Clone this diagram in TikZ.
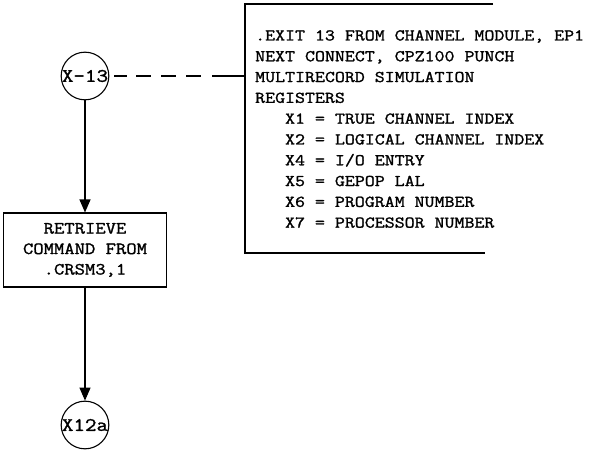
\documentclass[tikz,border=0pt]{standalone}
\usepackage{fontspec}
\setmonofont{Latin Modern Mono}[FakeStretch=1.18, FakeBold=1.5]
\usetikzlibrary{arrows.meta}

\tikzset{
  conn/.style={draw, circle, line width=1.1pt, inner sep=0pt, minimum size=46pt,
    font=\fontsize{19}{20}\selectfont\ttfamily},
  procbox/.style={draw, rectangle, line width=1.1pt, minimum width=163pt,
    minimum height=74pt, align=center, inner sep=0pt,
    font=\fontsize{17}{20.5}\selectfont\ttfamily},
  flow/.style={-{Triangle[width=11pt,length=13pt]}, line width=1.1pt},
  notetext/.style={align=left, inner sep=0pt, anchor=north west,
    font=\fontsize{16.4}{20.8}\selectfont\ttfamily},
  tieline/.style={line width=1.1pt,
    dash pattern=on 0pt off 5pt on 13pt off 9pt on 15pt off 10pt on 15pt off 10pt on 15pt off 11pt on 40pt off 0pt},
}
\newcommand{\ind}{\phantom{XXX}}

\begin{document}
\begin{tikzpicture}[x=1pt, y=-1pt]
        \useasboundingbox (0,0) rectangle (595,452);

        % Flow chart column
        \node[conn] (x13) at (85,76) {X-13};
        \node[procbox] (fetch) at (85,250) {RETRIEVE\\COMMAND FROM\\.CRSM3,1};
        \node[conn] (x12a) at (85,425) {X12a};

        \draw[flow] (x13) -- (fetch);
        \draw[flow] (fetch) -- (x12a);

        % Annotation bracket with register list
        \draw[line width=1.1pt] (493,4) -- (245,4) -- (245,253) -- (485,253);
        \coordinate (tap) at (245,76);
        \node[notetext] (note) at (255,30) {%
            .EXIT 13 FROM CHANNEL MODULE, EP1\\
            NEXT CONNECT, CPZ100 PUNCH\\
            MULTIRECORD SIMULATION\\
            REGISTERS\\
            \ind X1 = TRUE CHANNEL INDEX\\
            \ind X2 = LOGICAL CHANNEL INDEX\\
            \ind X4 = I/O ENTRY\\
            \ind X5 = GEPOP LAL\\
            \ind X6 = PROGRAM NUMBER\\
            \ind X7 = PROCESSOR NUMBER};

        % Dashed tie from the connector to the bracket
        \draw[tieline] (x13) -- (tap);
\end{tikzpicture}
\end{document}
